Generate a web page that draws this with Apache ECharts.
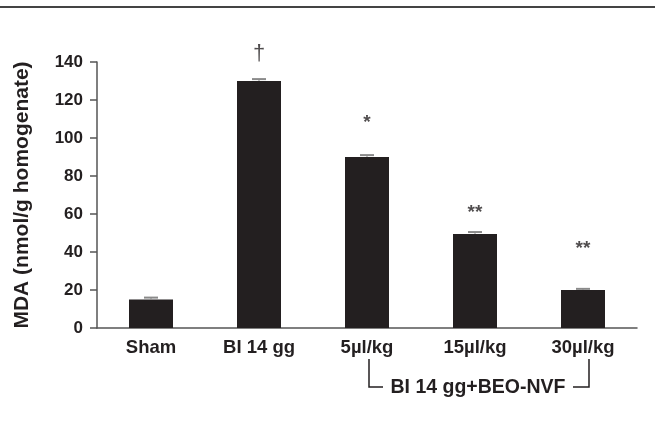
<!DOCTYPE html>
<html>
<head>
<meta charset="utf-8">
<script src="https://cdn.jsdelivr.net/npm/echarts@6/dist/echarts.min.js"></script>
<style>
  html, body { margin: 0; padding: 0; background: #fff; }
  #chart { width: 655px; height: 429px; }
</style>
</head>
<body>
<div id="chart"></div>
<script>
const categories = ["Sham", "BI 14 gg", "5\u00b5l/kg", "15\u00b5l/kg", "30\u00b5l/kg"];
const mdaValues = [15, 130, 90, 49.5, 20];
const mdaErrors = [1, 1, 1, 1, 0.6];
const sigMarks = ["", "\u2020", "*", "**", "**"];
const sigHeights = [null, 144.5, 108, 60.5, 41.5];
const yTicks = [0, 20, 40, 60, 80, 100, 120, 140];

const FONT = "'Liberation Sans', Arial, Helvetica, sans-serif";
const INK = "#231f20";

const chart = echarts.init(document.getElementById("chart"), null, { renderer: "canvas" });

chart.setOption({
  backgroundColor: "#fff",
  animation: false,
  grid: { left: 97, right: 18, top: 62, bottom: 101 },
  xAxis: {
    type: "category",
    data: categories,
    axisLine: { lineStyle: { color: "#555", width: 1.5 } },
    axisTick: { show: false },
    axisLabel: {
      color: INK,
      fontFamily: FONT,
      fontWeight: "bold",
      fontSize: 18.5,
      margin: 10
    }
  },
  yAxis: {
    type: "value",
    min: yTicks[0],
    max: yTicks[yTicks.length - 1],
    interval: 20,
    name: "MDA (nmol/g homogenate)",
    nameLocation: "middle",
    nameGap: 64,
    nameTextStyle: { color: INK, fontFamily: FONT, fontWeight: "bold", fontSize: 21 },
    axisLine: { show: true, lineStyle: { color: "#555", width: 1.5 } },
    axisTick: { show: true, length: 7, lineStyle: { color: "#555", width: 1.5 } },
    splitLine: { show: false },
    axisLabel: {
      color: INK,
      fontFamily: FONT,
      fontWeight: "bold",
      fontSize: 17,
      margin: 14
    }
  },
  series: [
    {
      type: "bar",
      data: mdaValues,
      barWidth: 44,
      itemStyle: { color: INK },
      z: 2
    },
    {
      type: "custom",
      z: 3,
      data: mdaValues.map((v, i) => [i, v, mdaErrors[i]]),
      renderItem(params, api) {
        const x = api.value(0);
        const top = api.coord([x, api.value(1) + api.value(2)]);
        const base = api.coord([x, api.value(1)]);
        const half = 7;
        return {
          type: "group",
          children: [
            {
              type: "line",
              shape: { x1: top[0] - half, y1: top[1], x2: top[0] + half, y2: top[1] },
              style: { stroke: "#8a8a8a", lineWidth: 2 }
            },
            {
              type: "line",
              shape: { x1: top[0], y1: top[1], x2: base[0], y2: base[1] },
              style: { stroke: "#8a8a8a", lineWidth: 1 }
            }
          ]
        };
      }
    },
    {
      type: "scatter",
      symbolSize: 0,
      clip: false,
      z: 4,
      data: sigHeights.map((h, i) => {
        if (h == null) return null;
        const dagger = sigMarks[i] === "\u2020";
        return {
          value: [i, h],
          label: { fontSize: dagger ? 22 : 19, fontWeight: dagger ? "normal" : "bold" }
        };
      }),
      label: {
        show: true,
        position: "inside",
        color: INK,
        fontFamily: FONT,
        formatter: (p) => sigMarks[p.dataIndex]
      }
    }
  ],
  graphic: [
    {
      type: "line",
      shape: { x1: 0, y1: 7, x2: 655, y2: 7 },
      style: { stroke: "#444", lineWidth: 2 }
    },
    {
      type: "polyline",
      shape: { points: [[369, 359], [369, 387], [383, 387]] },
      style: { stroke: INK, lineWidth: 1.5, fill: null }
    },
    {
      type: "polyline",
      shape: { points: [[573, 387], [589, 387], [589, 359]] },
      style: { stroke: INK, lineWidth: 1.5, fill: null }
    },
    {
      type: "text",
      x: 478,
      y: 388,
      style: {
        text: "BI 14 gg+BEO-NVF",
        fill: INK,
        font: "bold 19.5px " + FONT,
        align: "center",
        verticalAlign: "middle"
      }
    }
  ]
});
</script>
</body>
</html>
